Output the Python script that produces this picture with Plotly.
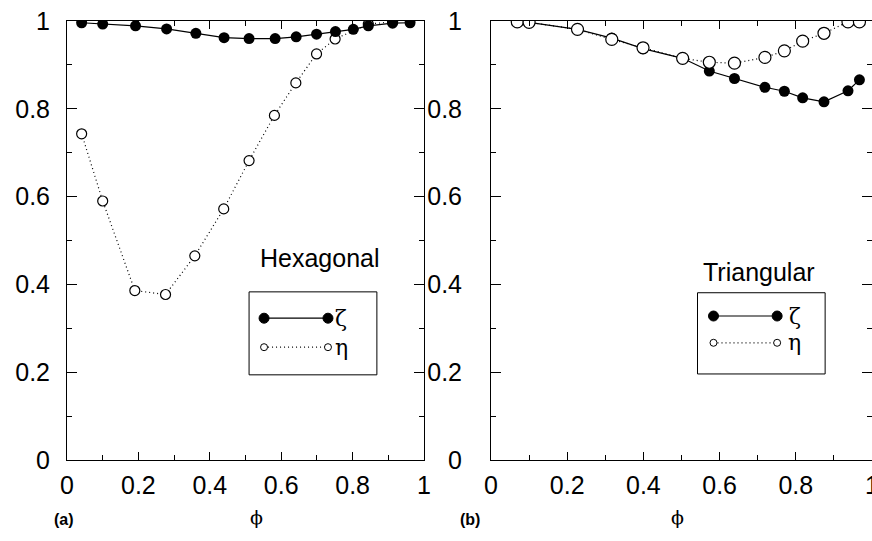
import plotly.graph_objects as go

# Hexagonal lattice (panel a)
phi_hex_zeta = [0.041, 0.100, 0.192, 0.279, 0.361, 0.440, 0.510, 0.583, 0.642,
                0.699, 0.752, 0.802, 0.844, 0.912, 0.961]
zeta_hex = [0.996, 0.993, 0.989, 0.982, 0.972, 0.962, 0.960, 0.960, 0.964,
            0.970, 0.976, 0.981, 0.989, 0.995, 0.996]
phi_hex_eta = [0.041, 0.100, 0.190, 0.276, 0.358, 0.439, 0.510, 0.581, 0.641,
               0.699, 0.751, 0.844, 0.912]
eta_hex = [0.743, 0.590, 0.386, 0.377, 0.465, 0.572, 0.682, 0.785, 0.859,
           0.925, 0.959, 0.993, 0.998]

# Triangular lattice (panel b)
phi_tri = [0.069, 0.100, 0.227, 0.317, 0.399, 0.503, 0.573, 0.639, 0.719,
           0.770, 0.818, 0.874, 0.937, 0.967]
zeta_tri = [0.998, 0.997, 0.981, 0.961, 0.937, 0.915, 0.886, 0.869, 0.849,
            0.840, 0.825, 0.816, 0.841, 0.866]
eta_tri = [0.998, 0.997, 0.981, 0.958, 0.939, 0.915, 0.906, 0.904, 0.917,
           0.932, 0.954, 0.972, 0.998, 0.998]

x_ticks = [0, 0.2, 0.4, 0.6, 0.8, 1]
x_ticktext = ["0", "0.2", "0.4", "0.6", "0.8", "1"]
y_ticks = [0, 0.2, 0.4, 0.6, 0.8, 1]
y_ticktext = ["0", "0.2", "0.4", "0.6", "0.8", "1"]

panel_names = ["Hexagonal", "Triangular"]
panel_tags = ["(a)", "(b)"]
series_names = ["ζ", "η"]

W, H = 872, 541
TICKFONT = dict(family="Liberation Sans, Arial, sans-serif", size=25, color="black")

fig = go.Figure()


def zeta_trace(x, y, xa, ya, size):
    return go.Scatter(x=x, y=y, xaxis=xa, yaxis=ya, mode="lines+markers",
                      line=dict(color="black", width=1.2),
                      marker=dict(symbol="circle", size=size, color="black"),
                      showlegend=False, hoverinfo="skip")


def eta_trace(x, y, xa, ya, size):
    return go.Scatter(x=x, y=y, xaxis=xa, yaxis=ya, mode="lines+markers",
                      line=dict(color="black", width=1.2, dash="1px,3px"),
                      marker=dict(symbol="circle", size=size, color="white",
                                  line=dict(color="black", width=1.2)),
                      showlegend=False, hoverinfo="skip")


# panel (a): eta below, zeta on top
fig.add_trace(eta_trace(phi_hex_eta, eta_hex, "x", "y", 10))
fig.add_trace(zeta_trace(phi_hex_zeta, zeta_hex, "x", "y", 11))
# panel (b): zeta below, eta on top
fig.add_trace(zeta_trace(phi_tri, zeta_tri, "x2", "y2", 11))
fig.add_trace(eta_trace(phi_tri, eta_tri, "x2", "y2", 12))

common_x = dict(range=[0, 1], tickvals=x_ticks, ticktext=x_ticktext,
                ticks="inside", ticklen=8, tickcolor="black", mirror="allticks",
                showline=True, linecolor="black", linewidth=1, showgrid=False,
                zeroline=False, tickfont=TICKFONT, automargin=False,
                ticklabelstandoff=3, ticklabeloverflow="allow",
                minor=dict(dtick=0.1, tick0=0, ticks="inside", ticklen=5,
                           tickcolor="black", showgrid=False))
common_y = dict(range=[0, 1], tickvals=y_ticks, ticktext=y_ticktext,
                ticks="inside", ticklen=10, tickcolor="black", mirror="allticks",
                showline=True, linecolor="black", linewidth=1, showgrid=False,
                zeroline=False, tickfont=TICKFONT, automargin=False,
                ticklabeloverflow="allow",
                minor=dict(dtick=0.1, tick0=0, ticks="inside", ticklen=5,
                           tickcolor="black", showgrid=False))

ydom = [1 - 460 / H, 1 - 21 / H]
fig.update_layout(
    width=W, height=H,
    margin=dict(l=0, r=0, t=0, b=0, autoexpand=False),
    paper_bgcolor="white", plot_bgcolor="white",
    xaxis=dict(domain=[67 / W, 424 / W], anchor="y", **common_x),
    yaxis=dict(domain=ydom, anchor="x", ticklabelstandoff=11, **common_y),
    xaxis2=dict(domain=[491 / W, 1.0], anchor="y2", **common_x),
    yaxis2=dict(domain=ydom, anchor="x2", ticklabelstandoff=23, **common_y),
)

# legend boxes with line-and-marker keys
legend_specs = [
    # xref, yref, box, key line x, key y (zeta, eta), label x
    ("x", "y", (0.510, 0.868, 0.194, 0.383), (0.552, 0.731), (0.323, 0.257), 0.768),
    ("x2", "y2", (0.542, 0.877, 0.196, 0.381), (0.584, 0.751), (0.328, 0.267), 0.797),
]
for xr, yr, box, (lx0, lx1), (yz, ye), tx in legend_specs:
    fig.add_shape(type="rect", xref=xr, yref=yr, x0=box[0], x1=box[1],
                  y0=box[2], y1=box[3], line=dict(color="black", width=1),
                  fillcolor="white", layer="above")
    fig.add_shape(type="line", xref=xr, yref=yr, x0=lx0, x1=lx1, y0=yz, y1=yz,
                  line=dict(color="black", width=1.2), layer="above")
    fig.add_shape(type="line", xref=xr, yref=yr, x0=lx0, x1=lx1, y0=ye, y1=ye,
                  line=dict(color="black", width=1.2, dash="1px,3px"), layer="above")
    for cx in (lx0, lx1):
        fig.add_shape(type="circle", xref=xr, yref=yr, xsizemode="pixel",
                      ysizemode="pixel", xanchor=cx, yanchor=yz,
                      x0=-5, x1=5, y0=-5, y1=5, fillcolor="black",
                      line=dict(color="black", width=1), layer="above")
        fig.add_shape(type="circle", xref=xr, yref=yr, xsizemode="pixel",
                      ysizemode="pixel", xanchor=cx, yanchor=ye,
                      x0=-3.5, x1=3.5, y0=-3.5, y1=3.5, fillcolor="white",
                      line=dict(color="black", width=1), layer="above")
    for name, yy in zip(series_names, (yz, ye)):
        fig.add_annotation(xref=xr, yref=yr, x=tx, y=yy, text=name,
                           showarrow=False, xanchor="center", yanchor="middle",
                           font=dict(family="DejaVu Serif, serif", size=22,
                                     color="black"))

# lattice names
fig.add_annotation(xref="x", yref="y", x=0.709, y=0.46, text=panel_names[0],
                   showarrow=False, font=dict(family="Liberation Sans, Arial",
                                              size=25, color="black"))
fig.add_annotation(xref="x2", yref="y2", x=0.704, y=0.428, text=panel_names[1],
                   showarrow=False, font=dict(family="Liberation Sans, Arial",
                                              size=25, color="black"))

# panel tags and axis symbols below each panel
for tag, px in zip(panel_tags, (52, 470)):
    fig.add_annotation(xref="paper", yref="paper", x=px / W, y=1 - 530 / H,
                       text=f"<b>{tag}</b>", showarrow=False,
                       font=dict(family="Liberation Sans, Arial", size=16,
                                 color="black"))
for px in (248, 686):
    fig.add_annotation(xref="paper", yref="paper", x=px / W, y=1 - 530 / H,
                       text="ϕ", showarrow=False,
                       font=dict(family="DejaVu Serif, serif", size=19,
                                 color="black"))

fig.write_html("out.html")
